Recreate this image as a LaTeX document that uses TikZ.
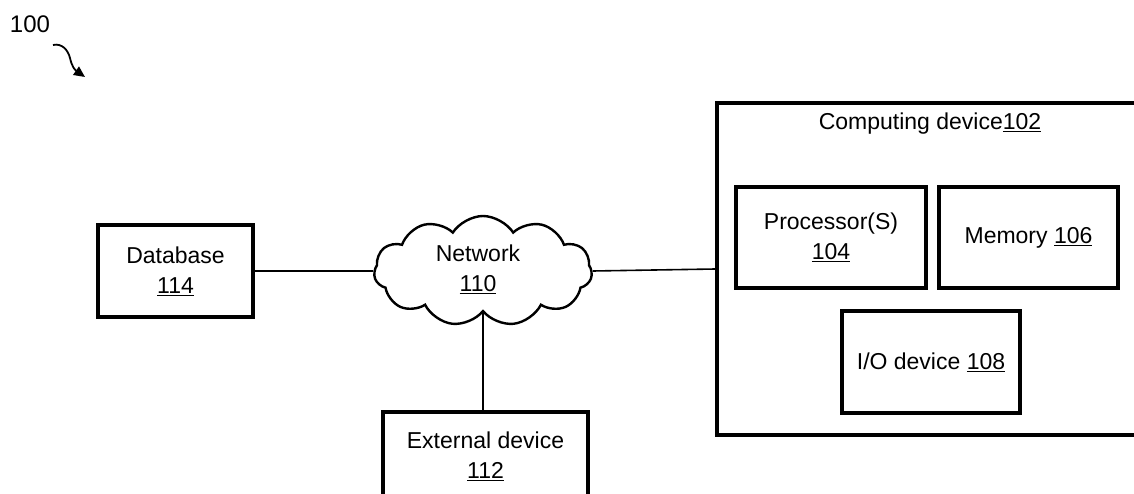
\documentclass[tikz,border=0pt]{standalone}
\usepackage{fontspec}
\setmainfont{Liberation Sans}
\usetikzlibrary{shapes.symbols,arrows.meta}
\tikzset{
  boxnode/.style={draw, line width=3.4pt, align=center, inner sep=0pt},
  wire/.style={line width=1.6pt},
  txt/.style={font=\fontsize{23}{30}\selectfont, align=center}
}
\begin{document}
\begin{tikzpicture}[x=1pt,y=-1pt]
\clip (0,0) rectangle (1134,494);
\fill[white] (0,0) rectangle (1134,494);
% label 100
\node[txt, font=\fontsize{24}{28}\selectfont] (lbl) at (30,24) {100};
\coordinate (arrs) at (53,45);
\coordinate (arre) at (85,77);
\draw[line width=1.8pt, -{Triangle[length=11pt,width=10pt]}] (arrs) .. controls (62,43) and (68,50) .. (70,58) .. controls (72,67) and (75,70) .. (arre);
% computing device
\node[boxnode, minimum width=428pt, minimum height=332pt] (comp) at (931,269) {};
\node[txt] (complbl) at (930,124) {Computing device\underline{102}};
\node[boxnode, txt, minimum width=190pt, minimum height=101pt] (proc) at (831,237.5) {Processor(S)\\\underline{104}};
\node[boxnode, txt, minimum width=179pt, minimum height=101pt] (mem) at (1028.5,237.5) {Memory \underline{106}};
\node[boxnode, txt, minimum width=178pt, minimum height=102pt] (io) at (931,362) {I/O device \underline{108}};
% database
\node[boxnode, txt, minimum width=155pt, minimum height=92pt] (db) at (175.5,271) {Database\\\underline{114}};
% external
\node[boxnode, minimum width=205pt, minimum height=96pt] (ext) at (485.5,460) {};
\node[txt] (extlbl) at (485.5,456) {External device\\\underline{112}};
% network cloud
\node[cloud, draw, line width=2.4pt, cloud puffs=11, cloud puff arc=115, cloud ignores aspect, minimum width=218pt, minimum height=110pt, fill=white] (net) at (483,271) {};
\node[txt] (netlbl) at (478,269) {Network\\\underline{110}};
% connectors
\draw[wire] (db.east) -- (net.west);
\draw[wire] (net.east) -- (comp.west);
\draw[wire] (net.south) -- (net.south |- ext.north);
\end{tikzpicture}
\end{document}
